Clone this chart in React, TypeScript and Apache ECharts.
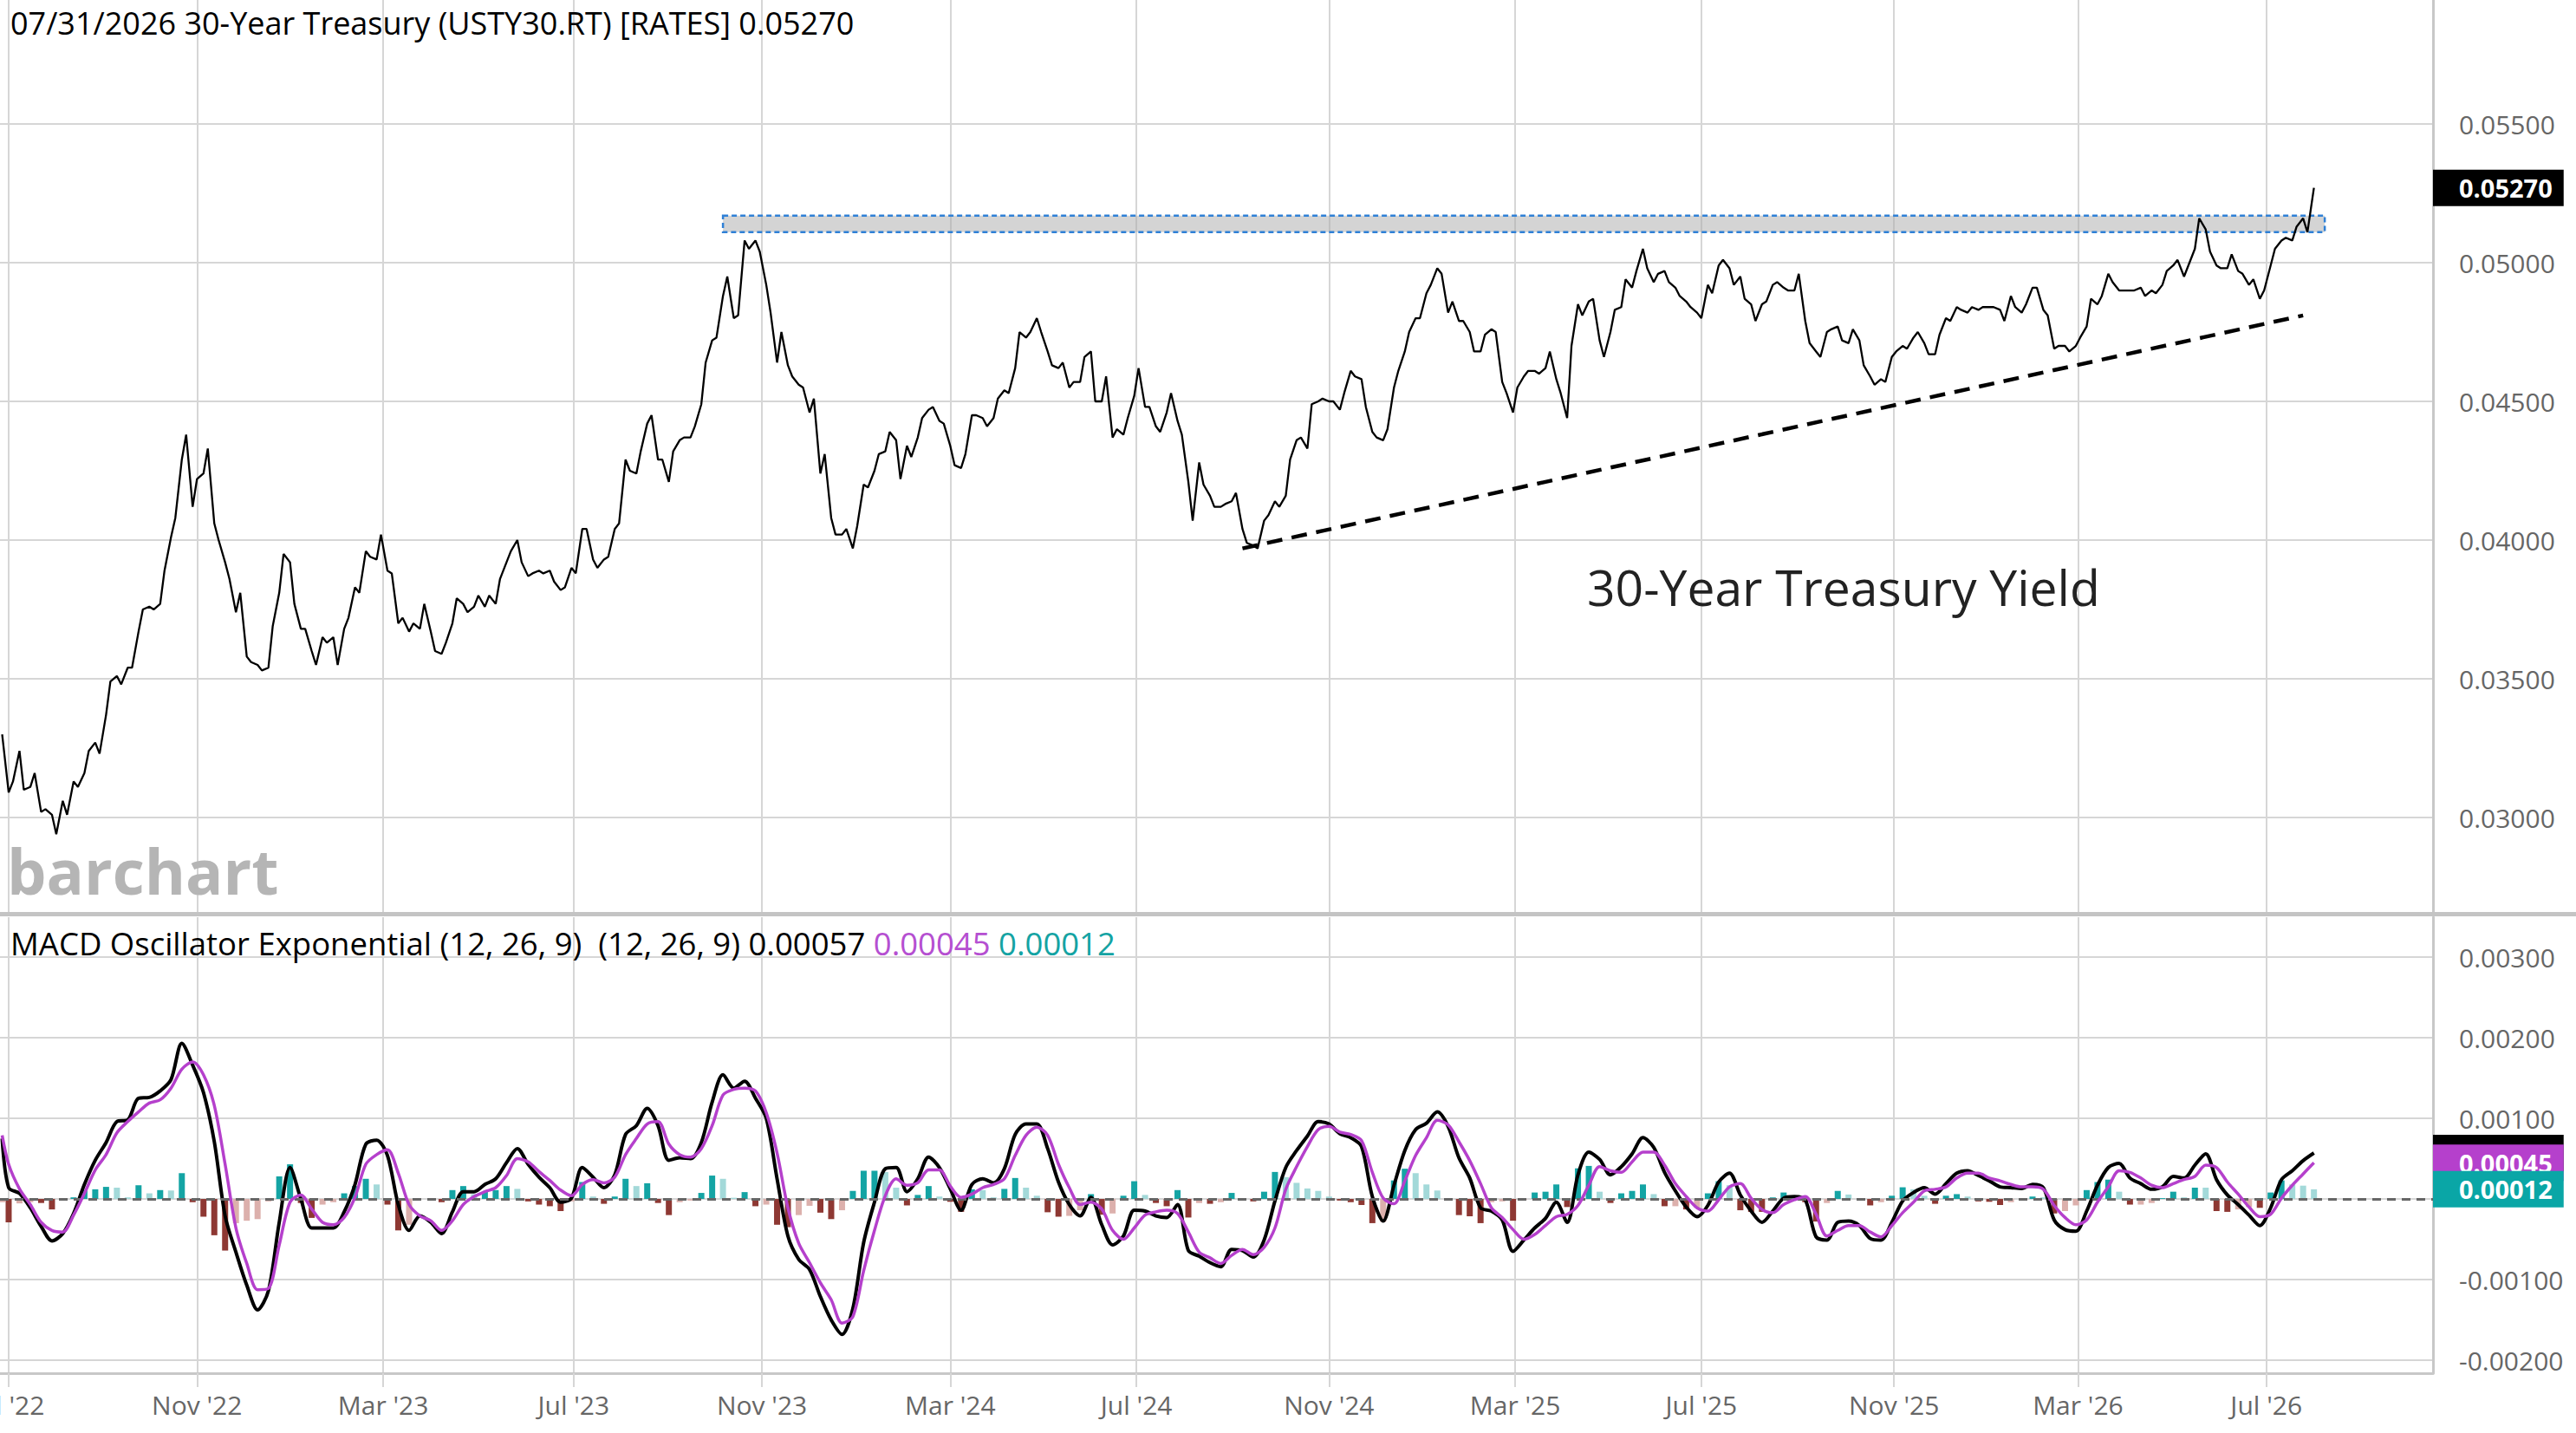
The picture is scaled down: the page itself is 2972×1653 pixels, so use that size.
import React, { useEffect, useRef } from "react";
import * as echarts from "echarts";

// ---------- time axis: one slot per weekday ----------
const FIRST_WEEKDAY = "2022-06-27";
const WEEKDAY_SLOTS = 1125; // includes the empty space right of the last bar
const CHART_START = "2022-06-28"; // first point of the chart
const FIRST_TUESDAY = "2022-06-28";
const FIRST_FRIDAY = "2022-07-01";

// ---------- 30-Year Treasury yield (Tuesday and Friday of each week) ----------
const yieldTuesdays = [
  0.0330, 0.0313, 0.0310, 0.0316, 0.0303, 0.0294, 0.0301, 0.0311, 0.0324, 0.0323,
  0.0349, 0.0348, 0.0354, 0.0375, 0.0375, 0.0389, 0.0408, 0.0438, 0.0422, 0.0433,
  0.0400, 0.0386, 0.0381, 0.0356, 0.0353, 0.0369, 0.0395, 0.0377, 0.0368, 0.0355,
  0.0363, 0.0355, 0.0372, 0.0381, 0.0394, 0.0402, 0.0388, 0.0372, 0.0370, 0.0377,
  0.0360, 0.0363, 0.0379, 0.0374, 0.0380, 0.0380, 0.0386, 0.0396, 0.0392, 0.0388,
  0.0388, 0.0385, 0.0383, 0.0388, 0.0404, 0.0390, 0.0394, 0.0406, 0.0425, 0.0432,
  0.0445, 0.0429, 0.0432, 0.0437, 0.0441, 0.0464, 0.0473, 0.0495, 0.0481, 0.0505,
  0.0504, 0.0482, 0.0475, 0.0459, 0.0455, 0.0451, 0.0431, 0.0402, 0.0404, 0.0405,
  0.0419, 0.0431, 0.0439, 0.0422, 0.0430, 0.0444, 0.0448, 0.0442, 0.0427, 0.0431,
  0.0445, 0.0441, 0.0451, 0.0453, 0.0475, 0.0475, 0.0475, 0.0463, 0.0464, 0.0457,
  0.0466, 0.0450, 0.0459, 0.0440, 0.0444, 0.0462, 0.0448, 0.0439, 0.0453, 0.0438,
  0.0407, 0.0420, 0.0412, 0.0413, 0.0417, 0.0399, 0.0397, 0.0409, 0.0412, 0.0429,
  0.0437, 0.0449, 0.0451, 0.0450, 0.0453, 0.0459, 0.0448, 0.0437, 0.0440, 0.0461,
  0.0475, 0.0480, 0.0492, 0.0496, 0.0486, 0.0479, 0.0468, 0.0474, 0.0475, 0.0453,
  0.0455, 0.0461, 0.0460, 0.0468, 0.0453, 0.0470, 0.0481, 0.0487, 0.0466, 0.0483,
  0.0494, 0.0497, 0.0498, 0.0496, 0.0493, 0.0488, 0.0484, 0.0480, 0.0489, 0.0501,
  0.0492, 0.0487, 0.0479, 0.0486, 0.0493, 0.0490, 0.0496, 0.0471, 0.0466, 0.0476,
  0.0472, 0.0476, 0.0463, 0.0456, 0.0457, 0.0468, 0.0469, 0.0475, 0.0467, 0.0474,
  0.0479, 0.0483, 0.0484, 0.0484, 0.0484, 0.0479, 0.0484, 0.0485, 0.0491, 0.0481,
  0.0470, 0.0468, 0.0473, 0.0487, 0.0488, 0.0493, 0.0490, 0.0490, 0.0488, 0.0489,
  0.0497, 0.0501, 0.0499, 0.0516, 0.0504, 0.0498, 0.0503, 0.0496, 0.0494, 0.0490,
  0.0505, 0.0509, 0.0513, 0.0511,
];

const yieldFridays = [
  0.0309, 0.0324, 0.0311, 0.0302, 0.0301, 0.0306, 0.0313, 0.0316, 0.0327, 0.0337,
  0.0351, 0.0354, 0.0367, 0.0376, 0.0377, 0.0401, 0.0429, 0.0412, 0.0424, 0.0406,
  0.0392, 0.0374, 0.0358, 0.0355, 0.0354, 0.0381, 0.0392, 0.0368, 0.0360, 0.0365,
  0.0365, 0.0368, 0.0383, 0.0396, 0.0393, 0.0389, 0.0370, 0.0367, 0.0368, 0.0367,
  0.0359, 0.0370, 0.0377, 0.0376, 0.0376, 0.0377, 0.0392, 0.0400, 0.0387, 0.0389,
  0.0389, 0.0382, 0.0390, 0.0404, 0.0393, 0.0393, 0.0404, 0.0429, 0.0424, 0.0442,
  0.0429, 0.0421, 0.0436, 0.0437, 0.0449, 0.0472, 0.0488, 0.0480, 0.0508, 0.0508,
  0.0492, 0.0464, 0.0463, 0.0456, 0.0446, 0.0424, 0.0408, 0.0402, 0.0397, 0.0420,
  0.0425, 0.0432, 0.0436, 0.0434, 0.0437, 0.0447, 0.0443, 0.0434, 0.0426, 0.0445,
  0.0444, 0.0444, 0.0454, 0.0462, 0.0473, 0.0480, 0.0468, 0.0462, 0.0455, 0.0457,
  0.0468, 0.0450, 0.0437, 0.0438, 0.0452, 0.0448, 0.0441, 0.0446, 0.0443, 0.0421,
  0.0428, 0.0416, 0.0412, 0.0414, 0.0404, 0.0398, 0.0407, 0.0414, 0.0416, 0.0436,
  0.0433, 0.0450, 0.0450, 0.0447, 0.0461, 0.0458, 0.0439, 0.0436, 0.0455, 0.0468,
  0.0480, 0.0489, 0.0498, 0.0482, 0.0479, 0.0475, 0.0468, 0.0476, 0.0457, 0.0446,
  0.0459, 0.0461, 0.0462, 0.0458, 0.0444, 0.0485, 0.0486, 0.0472, 0.0475, 0.0484,
  0.0491, 0.0505, 0.0493, 0.0497, 0.0491, 0.0486, 0.0482, 0.0492, 0.0499, 0.0498,
  0.0495, 0.0485, 0.0485, 0.0492, 0.0491, 0.0490, 0.0479, 0.0468, 0.0475, 0.0477,
  0.0471, 0.0472, 0.0459, 0.0458, 0.0466, 0.0470, 0.0473, 0.0471, 0.0467, 0.0480,
  0.0484, 0.0482, 0.0483, 0.0484, 0.0483, 0.0488, 0.0482, 0.0491, 0.0483, 0.0469,
  0.0470, 0.0470, 0.0477, 0.0485, 0.0496, 0.0490, 0.0490, 0.0491, 0.0490, 0.0492,
  0.0499, 0.0495, 0.0505, 0.0512, 0.0499, 0.0498, 0.0497, 0.0492, 0.0487, 0.0499,
  0.0508, 0.0508, 0.0516, 0.0527,
];

// ---------- MACD (12, 26, 9): chart start, then every Friday ----------
const macdValues = [
  0.00075, 0.00014, 0.00007, -0.00011, -0.00034, -0.00052, -0.00043, -0.00018, 0.00018, 0.00048,
  0.00070, 0.00096, 0.00098, 0.00125, 0.00126, 0.00134, 0.00148, 0.00193, 0.00166, 0.00132,
  0.00071, -0.00021, -0.00066, -0.00107, -0.001375, -0.00114, -0.00029, 0.00039, 0.00000, -0.00036,
  -0.00036, -0.00036, -0.00016, 0.00018, 0.00068, 0.00073, 0.00054, -0.00007, -0.00039, -0.00021,
  -0.00029, -0.00043, -0.00016, 0.00009, 0.00009, 0.00018, 0.00025, 0.00045, 0.000625, 0.00043,
  0.00027, 0.00014, -0.00004, 0.00001, 0.00039, 0.00027, 0.00014, 0.00030, 0.00080, 0.00091,
  0.001125, 0.00091, 0.00048, 0.00051, 0.00050, 0.00070, 0.00120, 0.00154, 0.001375, 0.00146,
  0.00125, 0.00100, 0.00025, -0.00046, -0.00075, -0.000875, -0.00121, -0.00150, -0.00168, -0.00136,
  -0.00054, -0.00004, 0.000375, 0.00039, 0.00009, 0.00025, 0.00052, 0.00039, 0.000125, -0.00014,
  0.00018, 0.00025, 0.00020, 0.000375, 0.00080, 0.00093, 0.00093, 0.000625, 0.00021, -0.00007,
  -0.00021, 0.00002, -0.00032, -0.00057, -0.00046, -0.00014, -0.00015, -0.00021, -0.00023, -0.00007,
  -0.00064, -0.00071, -0.00079, -0.00084, -0.000625, -0.00064, -0.00072, -0.00051, -0.000025, 0.00039,
  0.00060, 0.00078, 0.00096, 0.00093, 0.00081, 0.00076, 0.00065, 0.00003, -0.000275, 0.00017,
  0.00060, 0.00086, 0.00094, 0.00108, 0.00090, 0.00051, 0.00026, -0.00011, -0.00015, -0.00026,
  -0.00065, -0.00051, -0.00036, -0.00024, -0.00004, -0.00029, 0.00030, 0.00058, 0.00049, 0.00030,
  0.00040, 0.00056, 0.00076, 0.00064, 0.00033, 0.00010, -0.00010, -0.00022, -0.00008, 0.00021,
  0.00032, 0.00005, -0.00015, -0.00029, -0.00015, 0.00001, 0.00003, -0.00001, -0.00047, -0.00051,
  -0.00029, -0.000275, -0.00033, -0.00049, -0.00051, -0.00029, -0.000025, 0.00008, 0.00014, 0.00006,
  0.00019, 0.00032, 0.00035, 0.00029, 0.000225, 0.00015, 0.00014, 0.00013, 0.00018, 0.00014,
  -0.00026, -0.00038, -0.00040, -0.00015, 0.00017, 0.00039, 0.00044, 0.00026, 0.00019, 0.00012,
  0.00015, 0.00028, 0.00026, 0.00042, 0.00056, 0.00024, 0.00005, -0.00007, -0.00020, -0.00033,
  -0.00011, 0.00024, 0.00035, 0.000475, 0.00057,
];

const signalValues = [
  0.00079, 0.00043, 0.000125, -0.00007, -0.00029, -0.00039, -0.00041, -0.00020, 0.00007, 0.00036,
  0.00055, 0.00082, 0.00096, 0.00108, 0.00119, 0.00123, 0.001375, 0.00161, 0.00170, 0.00154,
  0.00116, 0.00043, -0.00036, -0.00080, -0.001125, -0.00111, -0.00057, -0.00004, 0.00005, -0.000125,
  -0.00029, -0.00032, -0.00023, 0.00002, 0.00043, 0.00055, 0.00061, 0.00032, -0.00007, -0.00021,
  -0.00027, -0.00039, -0.00027, -0.00007, 0.00003, 0.00009, 0.00014, 0.00029, 0.00050, 0.00046,
  0.00034, 0.00023, 0.00011, 0.00004, 0.00018, 0.00024, 0.00020, 0.00027, 0.00055, 0.00075,
  0.00093, 0.00096, 0.00068, 0.00055, 0.00052, 0.000625, 0.00091, 0.00129, 0.00136, 0.001375,
  0.00134, 0.00107, 0.00057, -0.00011, -0.00055, -0.00079, -0.00104, -0.00125, -0.00154, -0.00146,
  -0.00089, -0.00039, 0.00004, 0.00025, 0.00017, 0.00020, 0.00036, 0.00036, 0.00016, 0.00002,
  0.00006, 0.00014, 0.00018, 0.00025, 0.00054, 0.00079, 0.00089, 0.00079, 0.00043, 0.00014,
  -0.00007, -0.00004, -0.000125, -0.00039, -0.00050, -0.00036, -0.00020, -0.00016, -0.00014, -0.00018,
  -0.00041, -0.00066, -0.00073, -0.00080, -0.00070, -0.000625, -0.00069, -0.00060, -0.00036, 0.00012,
  0.00040, 0.00065, 0.00086, 0.00090, 0.00083, 0.00080, 0.000725, 0.00033, 0.00001, -0.00006,
  0.000225, 0.00054, 0.00076, 0.000975, 0.00092, 0.00071, 0.000475, 0.00019, -0.00011, -0.00023,
  -0.00038, -0.00050, -0.00044, -0.00033, -0.00022, -0.00019, -0.00008, 0.00017, 0.00040, 0.00035,
  0.00033, 0.00046, 0.00058, 0.00058, 0.00042, 0.00019, 0.00003, -0.00011, -0.00015, -0.00001,
  0.00015, 0.00019, 0.00001, -0.00013, -0.00017, -0.00007, -0.00001, 0.00003, -0.00019, -0.00046,
  -0.00039, -0.00033, -0.00033, -0.00041, -0.00047, -0.00033, -0.00017, -0.00004, 0.00010, 0.00012,
  0.00015, 0.00026, 0.00032, 0.00032, 0.00026, 0.000225, 0.00018, 0.00015, 0.00015, 0.00012,
  -0.00008, -0.00023, -0.00032, -0.00026, -0.00004, 0.00015, 0.00035, 0.00033, 0.00026, 0.00017,
  0.00014, 0.00019, 0.00024, 0.00028, 0.00042, 0.00039, 0.00021, 0.00006, -0.00010, -0.00022,
  -0.00019, 0.00001, 0.00017, 0.00031, 0.00045,
];

// ---------- ticks / annotations ----------
const PRICE_TICKS = ["0.03000", "0.03500", "0.04000", "0.04500", "0.05000", "0.05500"];
const MACD_TICKS = ["-0.00200", "-0.00100", "0.00100", "0.00200", "0.00300"];
const MONTH_TICKS = [
  "Jul '22", "Nov '22", "Mar '23", "Jul '23", "Nov '23", "Mar '24", "Jul '24",
  "Nov '24", "Mar '25", "Jul '25", "Nov '25", "Mar '26", "Jul '26",
];
const PRICE_RANGE = [0.0265, 0.05947];
const MACD_RANGE = [-0.002161, 0.003495];
const RESISTANCE_ZONE = { from: "2023-10-06", to: "2026-08-07", low: 0.0511, high: 0.0517 };
const SUPPORT_LINE = [["2024-09-06", 0.0397], ["2026-07-24", 0.0481]];
const ANNOTATION = "30-Year Treasury Yield";
const SYMBOL_TITLE = "30-Year Treasury (USTY30.RT) [RATES]";
const MACD_TITLE = "MACD Oscillator Exponential (12, 26, 9)  (12, 26, 9)";

const MONTH_NAMES = ["Jan", "Feb", "Mar", "Apr", "May", "Jun", "Jul", "Aug", "Sep", "Oct", "Nov", "Dec"];
const DAY = 86400000;
const toTime = (iso: string) => Date.parse(iso + "T00:00:00Z");
const addDays = (iso: string, n: number) => new Date(toTime(iso) + n * DAY).toISOString().slice(0, 10);

function buildWeekdays(): string[] {
  const out: string[] = [];
  let t = toTime(FIRST_WEEKDAY);
  while (out.length < WEEKDAY_SLOTS) {
    const wd = new Date(t).getUTCDay();
    if (wd !== 0 && wd !== 6) out.push(new Date(t).toISOString().slice(0, 10));
    t += DAY;
  }
  return out;
}

function buildMonthTicks(days: string[]): Record<string, string> {
  const map: Record<string, string> = {};
  for (let i = 1; i < days.length; i++) {
    const cur = new Date(toTime(days[i]));
    const prev = new Date(toTime(days[i - 1]));
    if (cur.getUTCMonth() !== prev.getUTCMonth()) {
      const label = `${MONTH_NAMES[cur.getUTCMonth()]} '${String(cur.getUTCFullYear()).slice(2)}`;
      if (MONTH_TICKS.includes(label)) map[days[i]] = label;
    }
  }
  return map;
}

const GRID_COLOR = "#d6d6d6";
const AXIS_COLOR = "#c8c8c8";
const LABEL_COLOR = "#666666";
const PURPLE = "#b540cc";
const TEAL = "#0aa6a6";

function badge(bg: string, text: string) {
  return {
    show: true,
    position: "end",
    distance: 0,
    opacity: 1,
    formatter: text,
    backgroundColor: bg,
    color: "#ffffff",
    fontWeight: "bold",
    fontSize: 29,
    fontFamily: "Open Sans",
    lineHeight: 30,
    padding: [6, 13, 6, 30],
  };
}
const HIDDEN_LINE = { color: "rgba(0,0,0,0)", width: 0 };

function buildOption() {
  const days = buildWeekdays();
  const tickLabel = buildMonthTicks(days);
  const isTick = (i: number) => tickLabel[days[i]] !== undefined;

  const yieldData: [string, number][] = [];
  yieldTuesdays.forEach((v, i) => {
    yieldData.push([addDays(FIRST_TUESDAY, 7 * i), v]);
    if (i < yieldFridays.length) yieldData.push([addDays(FIRST_FRIDAY, 7 * i), yieldFridays[i]]);
  });
  const lastPoint = yieldData[yieldData.length - 1];
  const lastYield = lastPoint[1];

  const macdDates = macdValues.map((_, k) => (k === 0 ? CHART_START : addDays(FIRST_FRIDAY, 7 * (k - 1))));
  const n = macdValues.length;
  const lastMacd = macdValues[n - 1];
  const lastSignal = signalValues[n - 1];
  const histValues = macdValues.map((m, i) => m - signalValues[i]);
  const lastHist = histValues[n - 1];
  const histData = histValues.map((h, i) => {
    const prev = i > 0 ? histValues[i - 1] : h;
    const rising = h >= prev;
    const color = h >= 0 ? (rising ? "#14a4a4" : "#a3d9d9") : rising ? "#dcb0ac" : "#8e3833";
    return { value: [macdDates[i], h], itemStyle: { color } };
  });

  const lastDate = lastPoint[0];
  const dateText = `${lastDate.slice(5, 7)}/${lastDate.slice(8, 10)}/${lastDate.slice(0, 4)}`;
  const title = `${dateText} ${SYMBOL_TITLE} ${lastYield.toFixed(5)}`;

  const yLabel = (ticks: string[]) => ({
    formatter: (v: number) => {
      const s = v.toFixed(5);
      return ticks.includes(s) ? s : "";
    },
    color: LABEL_COLOR,
    fontSize: 30,
    fontFamily: "Open Sans",
    margin: 30,
  });

  return {
    animation: false,
    backgroundColor: "#ffffff",
    textStyle: { fontFamily: "Open Sans" },
    grid: [
      { left: 0, top: 0, width: 2807, height: 1055, outerBoundsMode: "none", containLabel: false },
      { left: 0, top: 1058, width: 2807, height: 526, outerBoundsMode: "none", containLabel: false },
    ],
    xAxis: [
      {
        type: "category",
        gridIndex: 0,
        data: days,
        boundaryGap: false,
        axisLine: { show: false },
        axisTick: { show: false },
        axisLabel: { show: false },
        splitLine: { show: true, interval: (i: number) => isTick(i), lineStyle: { color: GRID_COLOR, width: 2 } },
      },
      {
        type: "category",
        gridIndex: 1,
        data: days,
        boundaryGap: false,
        position: "bottom",
        axisLine: { show: true, onZero: false, lineStyle: { color: AXIS_COLOR, width: 3 } },
        axisTick: { show: true, interval: (i: number) => isTick(i), length: 16, lineStyle: { color: GRID_COLOR, width: 2 } },
        axisLabel: {
          show: true,
          interval: (i: number) => isTick(i),
          formatter: (v: string) => tickLabel[v] ?? "",
          color: LABEL_COLOR,
          fontSize: 30,
          fontFamily: "Open Sans",
          margin: 21,
        },
        splitLine: { show: true, interval: (i: number) => isTick(i), lineStyle: { color: GRID_COLOR, width: 2 } },
      },
    ],
    yAxis: [
      {
        type: "value",
        gridIndex: 0,
        position: "right",
        min: PRICE_RANGE[0],
        max: PRICE_RANGE[1],
        splitNumber: 5,
        axisLine: { show: true, lineStyle: { color: AXIS_COLOR, width: 3 } },
        axisTick: { show: false },
        axisLabel: yLabel(PRICE_TICKS),
        splitLine: { show: true, showMinLine: false, showMaxLine: false, lineStyle: { color: GRID_COLOR, width: 2 } },
      },
      {
        type: "value",
        gridIndex: 1,
        position: "right",
        min: MACD_RANGE[0],
        max: MACD_RANGE[1],
        splitNumber: 5,
        axisLine: { show: true, lineStyle: { color: AXIS_COLOR, width: 3 } },
        axisTick: { show: false },
        axisLabel: yLabel(MACD_TICKS),
        splitLine: { show: true, showMinLine: false, showMaxLine: false, lineStyle: { color: GRID_COLOR, width: 2 } },
      },
    ],
    series: [
      {
        name: "30-Year Treasury",
        type: "line",
        xAxisIndex: 0,
        yAxisIndex: 0,
        data: yieldData,
        showSymbol: false,
        symbol: "none",
        lineStyle: { color: "#000000", width: 2.3 },
        z: 3,
        markArea: {
          silent: true,
          data: [[
            { xAxis: RESISTANCE_ZONE.from, yAxis: RESISTANCE_ZONE.high },
            { xAxis: RESISTANCE_ZONE.to, yAxis: RESISTANCE_ZONE.low },
          ]],
          itemStyle: { color: "rgba(170,170,170,0.5)", borderColor: "#2f80d6", borderWidth: 2.5, borderType: [6, 4] },
        },
        markLine: {
          silent: true,
          precision: 6,
          symbol: ["none", "none"],
          label: { show: false },
          lineStyle: { color: "#000000", width: 4.5, type: [18, 11] },
          data: [
            [{ coord: SUPPORT_LINE[0] }, { coord: SUPPORT_LINE[1] }],
            { yAxis: lastYield, lineStyle: HIDDEN_LINE, label: badge("#000000", lastYield.toFixed(5)) },
          ],
        },
      },
      {
        name: "MACD",
        type: "line",
        xAxisIndex: 1,
        yAxisIndex: 1,
        data: macdValues.map((v, i) => [macdDates[i], v]),
        showSymbol: false,
        symbol: "none",
        smooth: 0.3,
        lineStyle: { color: "#000000", width: 4 },
        z: 4,
        markLine: {
          silent: true,
          precision: 6,
          symbol: ["none", "none"],
          data: [{ yAxis: lastMacd, lineStyle: HIDDEN_LINE, label: badge("#000000", lastMacd.toFixed(5)) }],
        },
      },
      {
        name: "Signal",
        type: "line",
        xAxisIndex: 1,
        yAxisIndex: 1,
        data: signalValues.map((v, i) => [macdDates[i], v]),
        showSymbol: false,
        symbol: "none",
        smooth: 0.3,
        lineStyle: { color: PURPLE, width: 3.5 },
        z: 5,
        markLine: {
          silent: true,
          precision: 6,
          symbol: ["none", "none"],
          data: [{ yAxis: lastSignal, lineStyle: HIDDEN_LINE, label: badge(PURPLE, lastSignal.toFixed(5)) }],
        },
      },
      {
        name: "Histogram",
        type: "bar",
        xAxisIndex: 1,
        yAxisIndex: 1,
        data: histData,
        barWidth: 7,
        z: 2,
        markLine: {
          silent: true,
          precision: 6,
          symbol: ["none", "none"],
          data: [
            { yAxis: 0, lineStyle: { color: "#666666", type: [10, 7], width: 3 }, label: { show: false } },
            { yAxis: lastHist, lineStyle: HIDDEN_LINE, label: badge(TEAL, lastHist.toFixed(5)) },
          ],
        },
      },
    ],
    graphic: [
      { type: "rect", silent: true, z: 10, shape: { x: 0, y: 1052, width: 2972, height: 5 }, style: { fill: "#c4c4c4" } },
      {
        type: "text",
        silent: true,
        z: 10,
        style: {
          text: title, x: 12, y: 26, fill: "#000000", fontSize: 36, fontFamily: "Open Sans",
          verticalAlign: "middle", textVerticalAlign: "middle",
        },
      },
      {
        type: "text",
        silent: true,
        z: 10,
        style: {
          text: `{k|${MACD_TITLE} ${lastMacd.toFixed(5)}} {p|${lastSignal.toFixed(5)}} {t|${lastHist.toFixed(5)}}`,
          x: 12, y: 1088, fontSize: 36.5, fontFamily: "Open Sans", fill: "#000000",
          verticalAlign: "middle", textVerticalAlign: "middle",
          rich: {
            k: { fill: "#000000", fontSize: 36.5, fontFamily: "Open Sans" },
            p: { fill: "#b54fd1", fontSize: 36.5, fontFamily: "Open Sans" },
            t: { fill: "#14a3a3", fontSize: 36.5, fontFamily: "Open Sans" },
          },
        },
      },
      {
        type: "text",
        silent: true,
        z: 1,
        style: {
          text: "barchart", x: 8, y: 1004, fill: "#b5b5b5", fontSize: 72, fontWeight: "bold", fontFamily: "Open Sans",
          verticalAlign: "middle", textVerticalAlign: "middle",
        },
      },
      {
        type: "text",
        silent: true,
        z: 10,
        style: {
          text: ANNOTATION, x: 1831, y: 677, fill: "#222222", fontSize: 57, fontFamily: "Open Sans",
          verticalAlign: "middle", textVerticalAlign: "middle",
        },
      },
    ],
  };
}

export default function App() {
  const ref = useRef<HTMLDivElement>(null);
  useEffect(() => {
    document.body.style.margin = "0";
    const el = ref.current;
    if (!el) return;
    const chart = echarts.init(el, undefined, { renderer: "svg", width: 2972, height: 1653 });
    chart.setOption(buildOption() as any);
    return () => chart.dispose();
  }, []);
  return (
    <div
      ref={ref}
      style={{ position: "absolute", left: 0, top: 0, width: 2972, height: 1653, background: "#ffffff" }}
    />
  );
}
